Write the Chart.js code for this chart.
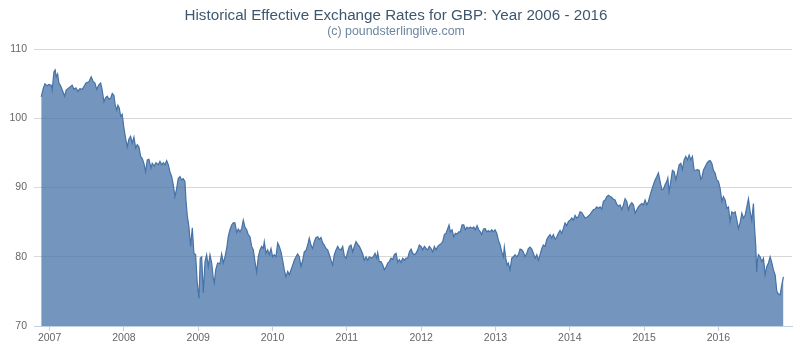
<!DOCTYPE html>
<html>
<head>
<meta charset="utf-8">
<script src="https://cdn.jsdelivr.net/npm/chart.js@4.4.1/dist/chart.umd.min.js"></script>
<style>
  html, body { margin: 0; padding: 0; background: #ffffff; }
  #wrap { width: 800px; height: 351px; }
</style>
</head>
<body>
<div id="wrap"><canvas id="c" width="800" height="351"></canvas></div>
<script>
// ---- data (decimal years, effective exchange rate index) ----
const dates = [
2006.887,2006.914,2006.937,2006.968,2006.991,2007.022,2007.035,2007.058,2007.075,2007.089,
2007.108,2007.125,2007.148,2007.170,2007.202,2007.223,2007.246,2007.283,2007.304,2007.327,
2007.354,2007.381,2007.408,2007.439,2007.462,2007.489,2007.529,2007.560,2007.587,2007.610,
2007.633,2007.660,2007.687,2007.708,2007.731,2007.754,2007.775,2007.798,2007.821,2007.843,
2007.866,2007.883,2007.902,2007.919,2007.937,2007.956,2007.977,2008.000,2008.023,2008.045,
2008.067,2008.090,2008.112,2008.135,2008.158,2008.179,2008.202,2008.225,2008.247,2008.269,
2008.292,2008.314,2008.337,2008.364,2008.381,2008.408,2008.431,2008.462,2008.485,2008.508,
2008.529,2008.552,2008.575,2008.597,2008.619,2008.642,2008.664,2008.687,2008.710,2008.731,
2008.754,2008.777,2008.798,2008.821,2008.835,2008.852,2008.875,2008.898,2008.920,2008.942,
2008.965,2008.987,2009.010,2009.027,2009.046,2009.068,2009.091,2009.113,2009.135,2009.158,
2009.181,2009.202,2009.216,2009.235,2009.261,2009.292,2009.315,2009.337,2009.360,2009.383,
2009.404,2009.427,2009.450,2009.471,2009.494,2009.517,2009.539,2009.562,2009.585,2009.606,
2009.629,2009.652,2009.673,2009.696,2009.719,2009.741,2009.764,2009.786,2009.808,2009.831,
2009.854,2009.875,2009.889,2009.912,2009.934,2009.956,2009.979,2010.002,2010.023,2010.046,
2010.069,2010.091,2010.114,2010.136,2010.158,2010.181,2010.204,2010.225,2010.248,2010.271,
2010.293,2010.315,2010.338,2010.360,2010.383,2010.406,2010.427,2010.450,2010.473,2010.494,
2010.517,2010.540,2010.562,2010.585,2010.608,2010.629,2010.652,2010.675,2010.696,2010.719,
2010.742,2010.764,2010.787,2010.809,2010.831,2010.854,2010.877,2010.898,2010.921,2010.944,
2010.966,2010.989,2011.011,2011.033,2011.056,2011.079,2011.100,2011.123,2011.146,2011.168,
2011.190,2011.213,2011.235,2011.258,2011.281,2011.302,2011.335,2011.356,2011.379,2011.402,
2011.415,2011.437,2011.460,2011.483,2011.504,2011.527,2011.550,2011.571,2011.594,2011.617,
2011.639,2011.662,2011.685,2011.706,2011.729,2011.752,2011.773,2011.796,2011.819,2011.841,
2011.864,2011.886,2011.908,2011.931,2011.954,2011.975,2011.998,2012.021,2012.043,2012.065,
2012.088,2012.110,2012.133,2012.156,2012.177,2012.200,2012.223,2012.245,2012.267,2012.290,
2012.312,2012.335,2012.358,2012.375,2012.393,2012.415,2012.438,2012.460,2012.483,2012.506,
2012.527,2012.550,2012.573,2012.594,2012.617,2012.640,2012.662,2012.685,2012.707,2012.729,
2012.752,2012.775,2012.796,2012.815,2012.837,2012.860,2012.882,2012.904,2012.927,2012.950,
2012.971,2012.994,2013.017,2013.039,2013.062,2013.084,2013.106,2013.119,2013.138,2013.156,
2013.173,2013.196,2013.219,2013.241,2013.263,2013.286,2013.308,2013.331,2013.354,2013.375,
2013.398,2013.421,2013.442,2013.465,2013.488,2013.510,2013.533,2013.556,2013.577,2013.600,
2013.623,2013.644,2013.667,2013.690,2013.712,2013.735,2013.757,2013.779,2013.802,2013.825,
2013.846,2013.869,2013.892,2013.914,2013.936,2013.959,2013.981,2014.004,2014.027,2014.048,
2014.071,2014.094,2014.115,2014.138,2014.161,2014.183,2014.206,2014.229,2014.250,2014.273,
2014.296,2014.317,2014.340,2014.363,2014.385,2014.408,2014.430,2014.452,2014.475,2014.498,
2014.519,2014.542,2014.565,2014.587,2014.609,2014.632,2014.654,2014.677,2014.700,2014.721,
2014.744,2014.767,2014.788,2014.811,2014.834,2014.856,2014.879,2014.902,2014.923,2014.946,
2014.969,2014.990,2015.013,2015.036,2015.058,2015.081,2015.103,2015.125,2015.148,2015.171,
2015.192,2015.215,2015.238,2015.260,2015.282,2015.305,2015.319,2015.336,2015.359,2015.381,
2015.404,2015.427,2015.448,2015.471,2015.494,2015.515,2015.538,2015.561,2015.583,2015.606,
2015.628,2015.650,2015.673,2015.696,2015.717,2015.740,2015.763,2015.776,2015.798,2015.821,
2015.844,2015.865,2015.888,2015.911,2015.933,2015.955,2015.978,2016.000,2016.023,2016.046,
2016.067,2016.090,2016.113,2016.135,2016.157,2016.180,2016.202,2016.225,2016.248,2016.269,
2016.292,2016.315,2016.336,2016.359,2016.382,2016.404,2016.427,2016.449,2016.471,2016.484,
2016.503,2016.514,2016.525,2016.538,2016.561,2016.584,2016.606,2016.628,2016.651,2016.673,
2016.696,2016.719,2016.740,2016.763,2016.786,2016.808,2016.830,2016.844,2016.861,2016.875
];
const rates = [
103.1,104.3,105.0,104.7,104.9,104.8,104.1,106.7,107.0,106.0,
106.4,105.1,104.7,104.1,103.2,104.1,104.3,104.6,104.8,104.2,
104.4,103.9,104.3,104.2,104.6,105.1,105.3,106.0,105.3,105.1,
104.2,104.8,105.1,104.1,102.4,103.0,103.2,102.8,102.9,103.6,
103.3,101.9,101.2,101.9,101.5,100.3,100.6,98.6,97.1,95.9,
97.0,97.4,96.4,97.3,95.7,96.2,95.9,94.5,94.2,93.5,
92.3,94.0,94.1,92.8,93.5,93.1,93.6,93.3,93.8,93.3,
93.6,93.3,93.9,93.3,92.3,91.6,90.4,88.7,89.9,91.3,
91.6,91.1,91.3,90.9,88.2,86.0,84.3,81.5,84.2,80.5,
80.3,76.2,74.0,79.8,80.0,74.8,79.3,80.3,78.6,80.3,
79.1,76.9,76.2,78.1,79.1,79.0,80.4,79.1,80.0,81.2,
82.9,83.9,84.6,84.9,84.9,83.5,84.0,83.6,84.1,85.3,
84.3,83.9,83.2,82.9,81.5,81.0,79.3,77.8,80.0,81.0,
81.5,81.2,82.2,80.5,81.0,80.3,81.2,80.0,80.3,80.0,
82.0,81.5,80.7,79.5,78.1,77.1,77.9,77.4,78.1,78.8,
79.5,80.0,80.4,80.0,78.6,79.5,80.7,80.9,81.7,82.7,
81.7,81.2,82.2,82.8,82.9,82.5,82.8,82.0,81.7,81.2,
81.0,80.3,79.5,78.8,80.3,81.0,81.5,81.1,81.0,81.5,
80.1,79.8,80.7,81.5,81.7,80.7,81.5,82.2,81.8,81.5,
81.0,80.4,79.5,80.0,79.5,80.0,79.8,80.0,80.5,79.8,
80.6,79.3,79.3,78.8,78.1,78.5,79.1,79.3,79.8,79.6,
80.3,80.5,79.2,79.6,79.2,79.8,79.5,79.8,79.8,80.7,
81.1,80.5,80.3,80.5,81.0,81.7,81.5,81.0,81.5,81.2,
81.0,81.5,81.2,80.7,81.5,81.0,81.5,81.7,81.9,82.2,
83.2,83.4,84.1,84.6,83.6,83.9,82.9,83.4,83.3,83.6,
83.6,84.6,84.6,83.9,84.3,84.1,84.3,84.1,84.3,83.9,
84.5,83.9,83.6,83.2,84.0,84.1,83.6,83.8,83.6,83.9,
83.6,83.9,83.4,82.4,81.7,80.7,80.0,81.4,79.8,78.8,
79.1,78.1,79.8,80.0,80.3,80.0,80.3,81.1,81.0,80.7,
80.0,80.5,81.2,81.4,81.1,80.5,79.8,80.3,79.5,80.3,
81.2,81.7,81.5,82.5,82.9,83.2,82.7,83.2,82.5,82.9,
83.4,83.8,83.4,84.1,84.9,84.5,85.1,85.3,85.6,85.3,
86.0,85.6,85.8,86.5,86.4,86.0,85.6,85.7,85.9,86.1,
86.5,86.8,86.9,87.2,87.0,87.2,86.9,88.0,88.2,88.7,
88.9,88.7,88.6,88.3,88.2,87.6,87.3,87.5,86.8,87.5,
88.4,88.0,86.8,87.5,87.8,87.5,86.3,86.8,87.2,87.5,
87.7,87.5,88.2,87.5,88.0,88.9,89.7,90.4,91.1,91.6,
92.1,90.9,89.7,89.8,90.4,90.9,91.4,89.4,90.9,92.5,
92.3,91.1,92.1,93.3,93.5,92.6,94.0,94.5,94.0,94.7,
94.0,94.5,92.5,92.5,92.6,92.5,91.2,91.4,92.5,93.0,
93.5,93.8,93.9,93.5,92.5,92.1,91.1,90.9,89.9,88.0,
88.7,88.2,87.0,87.2,85.1,86.5,86.3,86.5,85.3,84.1,
84.9,86.3,85.6,86.0,87.2,88.4,86.5,85.3,87.7,84.6,
81.5,77.8,79.5,80.3,80.0,79.3,79.8,77.4,78.6,79.1,
80.0,79.1,78.1,77.4,75.0,74.6,74.5,75.4,76.4,77.1
];
const tickYears = [2007, 2008, 2009, 2010, 2011, 2012, 2013, 2014, 2015, 2016];
const yTicks = [70, 80, 90, 100, 110];

const titleText = 'Historical Effective Exchange Rates for GBP: Year 2006 - 2016';
const subtitleText = '(c) poundsterlinglive.com';

const points = dates.map((d, i) => ({ x: d, y: rates[i] }));
const FONT = "'Liberation Sans', Arial, sans-serif";

new Chart(document.getElementById('c'), {
  type: 'line',
  data: {
    datasets: [{
      label: 'GBP effective exchange rate',
      data: points,
      borderColor: '#4572A7',
      borderWidth: 1.2,
      backgroundColor: 'rgba(69,114,167,0.75)',
      fill: 'start',
      pointRadius: 0,
      tension: 0
    }]
  },
  options: {
    responsive: false,
    animation: false,
    layout: { padding: { top: 0, left: 0, right: 8, bottom: 0 } },
    plugins: {
      legend: { display: false },
      tooltip: { enabled: false },
      title: {
        display: true,
        text: titleText,
        color: '#3E576F',
        font: { family: FONT, size: 15.2, weight: 'normal', lineHeight: 1.26 },
        padding: { top: 6.4, bottom: 0 }
      },
      subtitle: {
        display: true,
        text: subtitleText,
        color: '#6D869F',
        font: { family: FONT, size: 12.4, weight: 'normal', lineHeight: 1 },
        padding: { top: 0, bottom: 11.2 }
      }
    },
    scales: {
      x: {
        type: 'linear',
        min: 2006.79,
        max: 2016.99,
        afterBuildTicks: (scale) => { scale.ticks = tickYears.map(v => ({ value: v })); },
        afterFit: (scale) => { scale.height = 25; },
        border: { display: true, color: '#C0D0E0', width: 1 },
        grid: { drawOnChartArea: false, drawTicks: true, tickLength: 5, color: '#C0D0E0' },
        ticks: {
          autoSkip: false, maxRotation: 0, padding: 1,
          color: '#666666', font: { family: FONT, size: 10.5 },
          callback: (v) => String(v)
        }
      },
      y: {
        min: 70,
        max: 110,
        afterBuildTicks: (scale) => { scale.ticks = yTicks.map(v => ({ value: v })); },
        afterFit: (scale) => { scale.width = 34; },
        border: { display: false },
        grid: { color: '#D8D8D8', drawTicks: false },
        ticks: {
          padding: 7,
          color: '#666666', font: { family: FONT, size: 10.5 },
          callback: (v) => String(v)
        }
      }
    }
  }
});
</script>
</body>
</html>
